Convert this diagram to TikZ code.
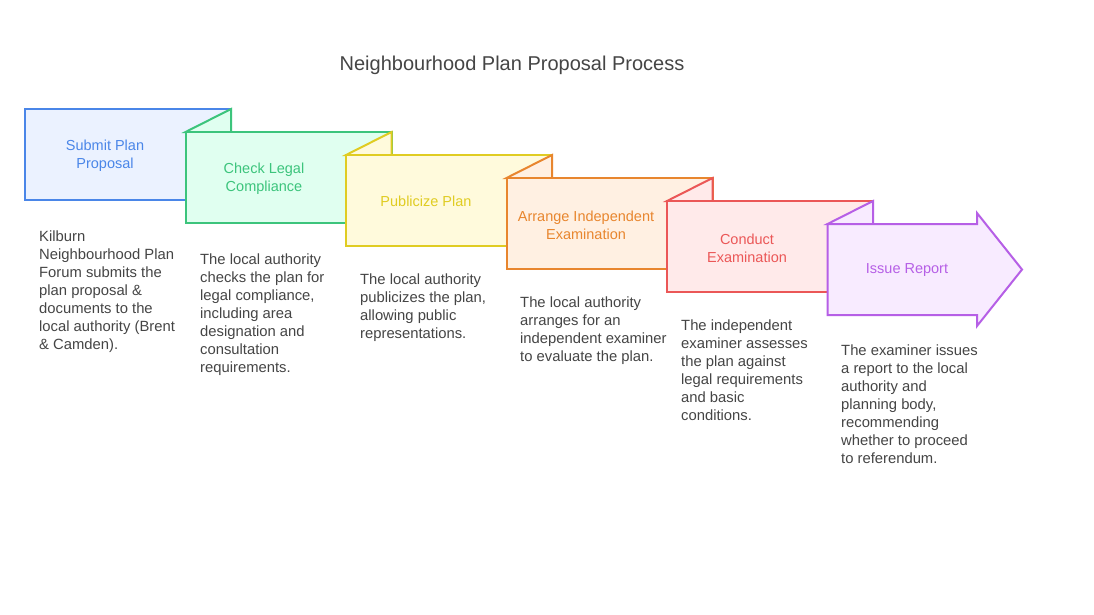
\documentclass[tikz,border=0pt]{standalone}
\usepackage{fontspec}
\setmainfont{Liberation Sans}
\definecolor{txt}{HTML}{454545}
\definecolor{s1}{HTML}{4A86E8}\definecolor{f1}{HTML}{EBF2FF}
\definecolor{s2}{HTML}{3CC47C}\definecolor{f2}{HTML}{E0FFF0}
\definecolor{s3}{HTML}{E0CC22}\definecolor{f3}{HTML}{FFFADC}
\definecolor{s4}{HTML}{E8862E}\definecolor{f4}{HTML}{FFF0E2}
\definecolor{s5}{HTML}{EB5757}\definecolor{f5}{HTML}{FFEAEA}
\definecolor{s6}{HTML}{B65FE6}\definecolor{f6}{HTML}{F8EBFF}
\tikzset{
  boxshape/.style={line width=2pt, line join=miter},
  lbl/.style={font=\fontsize{14.5}{18}\selectfont, align=center, inner sep=0pt},
  desc/.style={font=\fontsize{14.8}{18}\selectfont, text=txt, align=left, anchor=north west, inner sep=0pt},
}
\begin{document}
\begin{tikzpicture}[x=1pt,y=-1pt]
\useasboundingbox (0,0) rectangle (1094,614);
\fill[white] (0,0) rectangle (1094,614);
\node[font=\fontsize{20}{24}\selectfont, text=txt] (title) at (512,65) {Neighbourhood Plan Proposal Process};
% box 1
\draw[boxshape, draw=s1, fill=f1] (25,109) rectangle (231,200);
\node[lbl, text=s1] (l1) at (105,156) {Submit Plan\\Proposal};
% box 2
\draw[boxshape, draw=s2, fill=f2] (185.5,132) -- (231,109) -- (231,132) -- cycle;
\draw[boxshape, draw=s2, fill=f2] (185.5,132) rectangle (391.5,223);
\node[lbl, text=s2] (l2) at (264,179) {Check Legal\\Compliance};
% box 3
\draw[boxshape, draw=s3, fill=f3] (346,155) -- (391.5,132) -- (391.5,155) -- cycle;
\draw[boxshape, draw=s3, fill=f3] (346,155) rectangle (552,246);
\node[lbl, text=s3] (l3) at (426,201.5) {Publicize Plan};
% box 4
\draw[boxshape, draw=s4, fill=f4] (506.5,178) -- (552,155) -- (552,178) -- cycle;
\draw[boxshape, draw=s4, fill=f4] (506.5,178) rectangle (712.5,269);
\node[lbl, text=s4] (l4) at (586,225) {Arrange Independent\\Examination};
% box 5
\draw[boxshape, draw=s5, fill=f5] (667,201) -- (712.5,178) -- (712.5,201) -- cycle;
\draw[boxshape, draw=s5, fill=f5] (667,201) rectangle (873,292);
\node[lbl, text=s5] (l5) at (747,248) {Conduct\\Examination};
% box 6 arrow
\draw[boxshape, draw=s6, fill=f6] (827.5,224) -- (873,201) -- (873,224) -- cycle;
\draw[boxshape, draw=s6, fill=f6] (827.5,224) -- (977,224) -- (977,213) -- (1022,269.5) -- (977,326) -- (977,315) -- (827.5,315) -- cycle;
\node[lbl, text=s6] (l6) at (907,270.5) {Issue Report};
% descriptions
\node[desc] (d1) at (39,230.5) {Kilburn\\Neighbourhood Plan\\Forum submits the\\plan proposal \&\\documents to the\\local authority (Brent\\\& Camden).};
\node[desc] (d2) at (200,253.5) {The local authority\\checks the plan for\\legal compliance,\\including area\\designation and\\consultation\\requirements.};
\node[desc] (d3) at (360,273.5) {The local authority\\publicizes the plan,\\allowing public\\representations.};
\node[desc] (d4) at (520,296.5) {The local authority\\arranges for an\\independent examiner\\to evaluate the plan.};
\node[desc] (d5) at (681,319.5) {The independent\\examiner assesses\\the plan against\\legal requirements\\and basic\\conditions.};
\node[desc] (d6) at (841,344.5) {The examiner issues\\a report to the local\\authority and\\planning body,\\recommending\\whether to proceed\\to referendum.};
\end{tikzpicture}
\end{document}
